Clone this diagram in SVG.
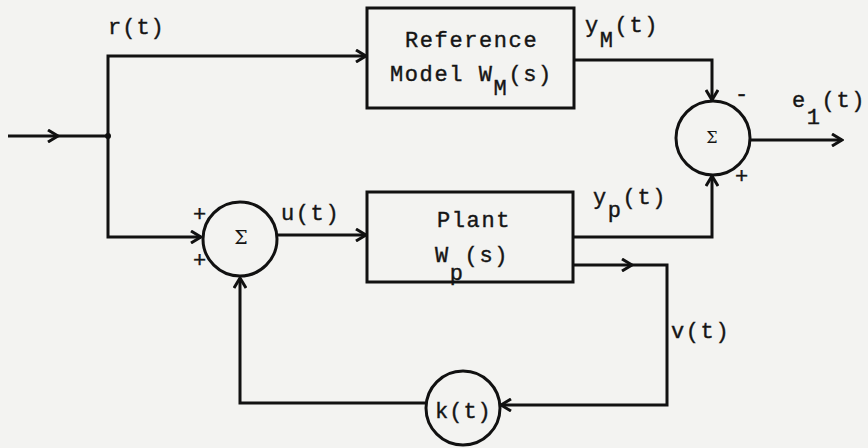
<svg xmlns="http://www.w3.org/2000/svg" width="868" height="448" viewBox="0 0 868 448">
<style>
.ln{fill:none;stroke:#111;stroke-width:3;stroke-linejoin:miter}
.bx{fill:none;stroke:#111;stroke-width:3}
.t{font-family:"Liberation Mono","DejaVu Sans Mono",monospace;font-size:22px;letter-spacing:1.6px;fill:#151515;stroke:#151515;stroke-width:0.4px}
.s{font-family:"DejaVu Serif","Liberation Serif",serif;font-size:19px;fill:#151515;text-anchor:middle}
</style>
<defs>
<marker id="ar" markerUnits="userSpaceOnUse" markerWidth="14" markerHeight="14" viewBox="-12 -7 14 14" refX="0" refY="0" orient="auto">
<path d="M-10,-6 L0,0 L-10,6" fill="none" stroke="#111" stroke-width="3"/>
</marker>
</defs>
<rect width="868" height="448" fill="#f3f3f1"/>
<g id="connectors">
<path class="ln" d="M8,136 L58,136" marker-end="url(#ar)"/>
<path class="ln" d="M58,136 L108,136"/>
<circle cx="108" cy="136" r="3" fill="#111"/>
<path class="ln" d="M108,136 L108,56 L366,56" marker-end="url(#ar)"/>
<path class="ln" d="M108,136 L108,237 L201,237" marker-end="url(#ar)"/>
<path class="ln" d="M575,60 L712,60 L712,100" marker-end="url(#ar)"/>
<path class="ln" d="M574,237 L712,237 L712,176" marker-end="url(#ar)"/>
<path class="ln" d="M750,140 L842,140" marker-end="url(#ar)"/>
<path class="ln" d="M277,235 L366,235" marker-end="url(#ar)"/>
<path class="ln" d="M574,265 L632,265" marker-end="url(#ar)"/>
<path class="ln" d="M632,265 L667,265 L667,405 L501,405" marker-end="url(#ar)"/>
<path class="ln" d="M427,403 L240,403 L240,278" marker-end="url(#ar)"/>
</g>
<g id="ref-model">
<rect class="bx" x="367" y="8" width="207" height="100"/>
<text class="t" x="405" y="47">Reference</text>
<text class="t" x="390" y="81">Model W</text>
<text class="t" x="493.6" y="95">M</text>
<text class="t" x="508.4" y="81">(s)</text>
</g>
<g id="plant">
<rect class="bx" x="367" y="192" width="206" height="90"/>
<text class="t" x="437" y="227">Plant</text>
<text class="t" x="435" y="262">W</text>
<text class="t" x="449.8" y="280">p</text>
<text class="t" x="464.6" y="262">(s)</text>
</g>
<g id="sum1">
<circle class="bx" cx="240" cy="239" r="37"/>
<text class="s" x="241" y="244">Σ</text>
<text class="t" x="193" y="221">+</text>
<text class="t" x="193" y="267">+</text>
</g>
<g id="sum2">
<circle class="bx" cx="713" cy="138" r="37"/>
<text class="s" x="712" y="143" style="font-size:16px">Σ</text>
<text class="t" x="735" y="101">-</text>
<text class="t" x="735" y="183">+</text>
</g>
<g id="gain">
<circle class="bx" cx="463" cy="408" r="37"/>
<text class="t" x="435" y="418" style="letter-spacing:1px">k(t)</text>
</g>
<g id="labels">
<text class="t" x="108" y="34" style="letter-spacing:1px">r(t)</text>
<text class="t" x="585" y="32">y</text>
<text class="t" x="599.8" y="47">M</text>
<text class="t" x="614.6" y="32">(t)</text>
<text class="t" x="792" y="107">e</text>
<text class="t" x="806.8" y="124">1</text>
<text class="t" x="821.6" y="107">(t)</text>
<text class="t" x="281" y="220">u(t)</text>
<text class="t" x="593" y="204">y</text>
<text class="t" x="607.8" y="217">p</text>
<text class="t" x="622.6" y="204">(t)</text>
<text class="t" x="671" y="338">v(t)</text>
</g>
</svg>
